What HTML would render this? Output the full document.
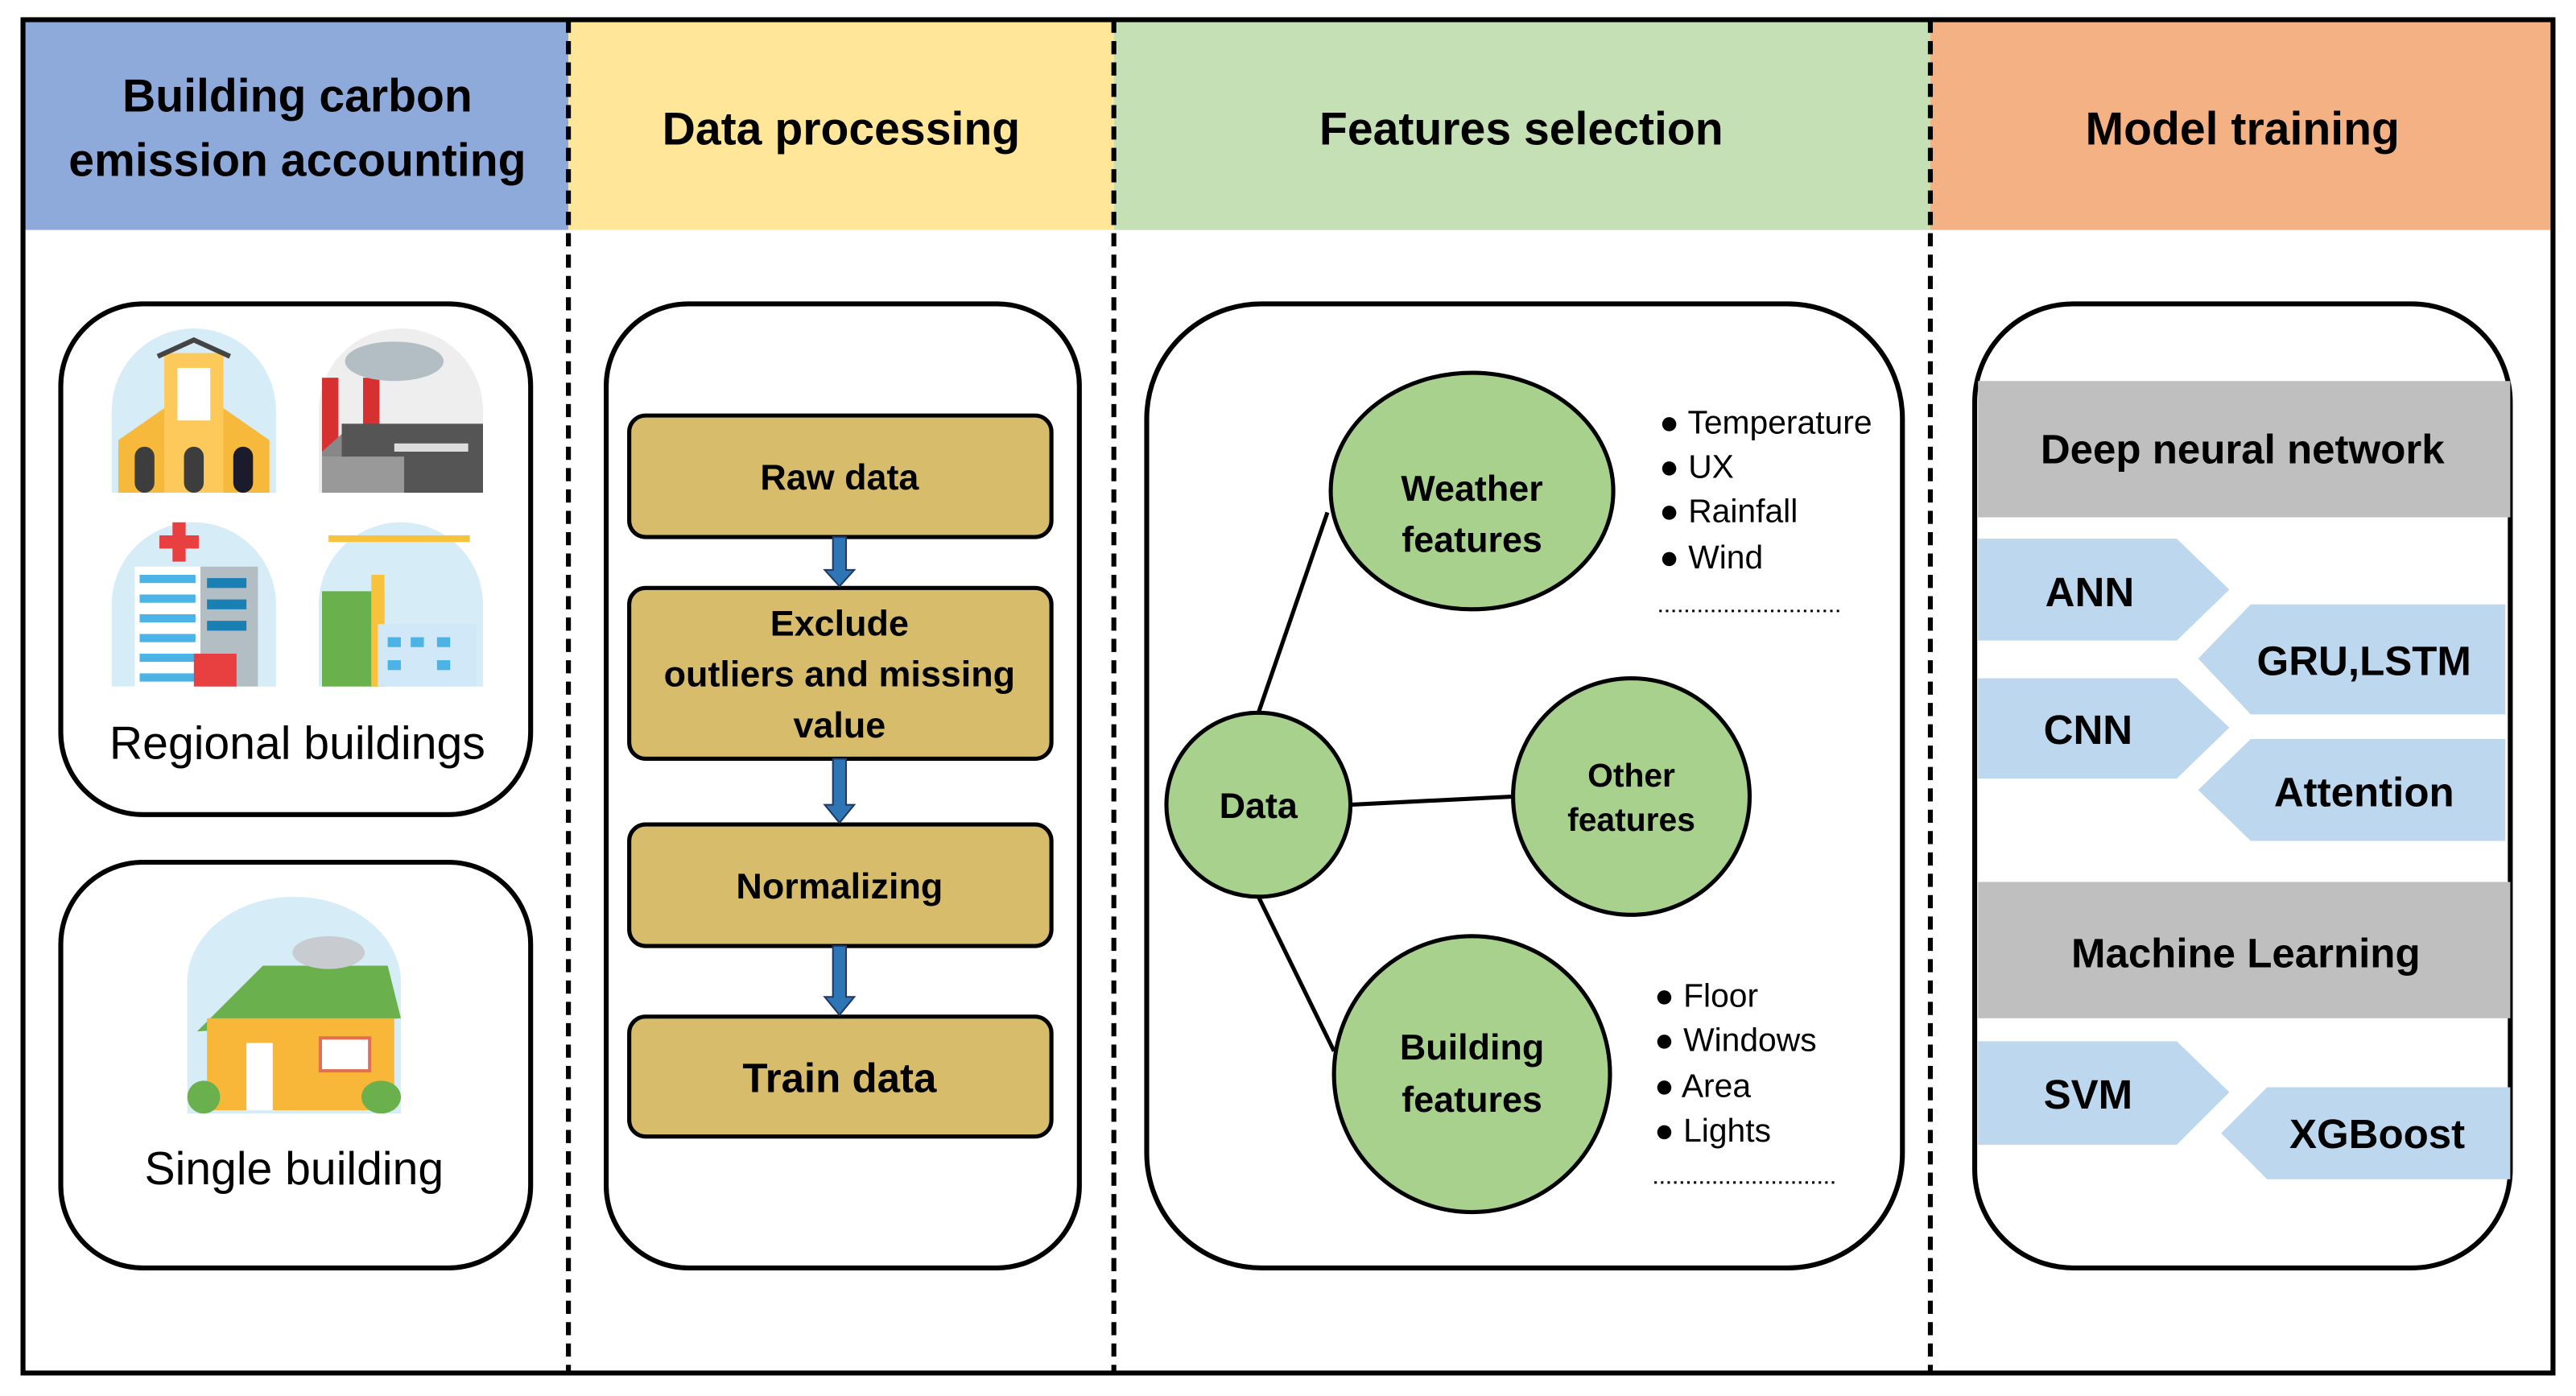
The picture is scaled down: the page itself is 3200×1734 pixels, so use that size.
<!DOCTYPE html>
<html><head><meta charset="utf-8"><style>
html,body{margin:0;padding:0;background:#fff}
svg{display:block}
text{font-family:"Liberation Sans","DejaVu Sans",sans-serif}
</style></head><body>
<svg width="3200" height="1734" viewBox="0 0 1568 850" preserveAspectRatio="none" xmlns="http://www.w3.org/2000/svg">
<rect x="0" y="0" width="1568" height="850" fill="#fff"/>
<rect x="14" y="12" width="332" height="128" fill="#8eaadb"/>
<rect x="346" y="12" width="332" height="128" fill="#ffe699"/>
<rect x="678" y="12" width="497" height="128" fill="#c5e0b4"/>
<rect x="1175" y="12" width="379" height="128" fill="#f4b183"/>
<g font-weight="bold" font-size="28" fill="#000" text-anchor="middle">
<text x="181" y="68">Building carbon</text>
<text x="181" y="107">emission accounting</text>
<text x="512" y="88">Data processing</text>
<text x="926" y="88">Features selection</text>
<text x="1365" y="88">Model training</text>
</g>
<g stroke="#000" stroke-width="3" stroke-dasharray="8,5">
<line x1="346" y1="12" x2="346" y2="836"/>
<line x1="678" y1="12" x2="678" y2="836"/>
<line x1="1175" y1="12" x2="1175" y2="836"/>
</g>
<rect x="14" y="12" width="1540" height="824" fill="none" stroke="#000" stroke-width="3"/>

<rect x="37" y="185" width="286" height="311" rx="50" fill="#fff" stroke="#000" stroke-width="3"/>
<rect x="37" y="525" width="286" height="247" rx="50" fill="#fff" stroke="#000" stroke-width="3"/>
<g fill="#d6edf8">
<path d="M68 300 V250 A50 50 0 0 1 168 250 V300 Z"/>
<path d="M319 300 V250 A50 50 0 0 1 419 250 V300 Z" transform="translate(-125 0)" fill="#eee"/>
<path d="M68 418 V368 A50 50 0 0 1 168 368 V418 Z"/>
<path d="M194 418 V368 A50 50 0 0 1 294 368 V418 Z"/>
<path d="M114 678 V598 A65 52 0 0 1 244 598 V678 Z"/>
</g>
<path d="M72 300 V268 L118 236 L164 268 V300 Z" fill="#f6b93b"/>
<rect x="100" y="215" width="36" height="85" fill="#fcc95a"/>
<path d="M96 217 L118 207 L140 217" stroke="#444" stroke-width="3" fill="none"/>
<rect x="108" y="224" width="20" height="32" fill="#fff"/>
<rect x="82" y="272" width="12" height="28" rx="6" fill="#3d3d3d"/>
<rect x="112" y="272" width="12" height="28" rx="6" fill="#3d3d3d"/>
<rect x="142" y="272" width="12" height="28" rx="6" fill="#1b1b2b"/>
<rect x="196" y="230" width="10" height="70" fill="#d63031"/>
<rect x="221" y="230" width="10" height="70" fill="#d63031"/>
<ellipse cx="240" cy="220" rx="30" ry="12" fill="#b2bec3"/>
<path d="M196 300 V275 L215 258 V300 Z" fill="#888"/>
<rect x="208" y="258" width="86" height="42" fill="#555"/>
<rect x="196" y="278" width="50" height="22" fill="#999"/>
<rect x="240" y="270" width="45" height="5" fill="#ddd"/>
<rect x="82" y="345" width="40" height="73" fill="#fff"/>
<g fill="#4bb3e6"><rect x="85" y="350" width="34" height="5"/><rect x="85" y="362" width="34" height="5"/><rect x="85" y="374" width="34" height="5"/><rect x="85" y="386" width="34" height="5"/><rect x="85" y="398" width="34" height="5"/><rect x="85" y="410" width="34" height="5"/></g>
<rect x="122" y="345" width="35" height="73" fill="#b2bec3"/>
<g fill="#1a7fb3"><rect x="126" y="352" width="24" height="6"/><rect x="126" y="365" width="24" height="6"/><rect x="126" y="378" width="24" height="6"/></g>
<path d="M100 330 h8 v-8 h8 v8 h8 v8 h-8 v8 h-8 v-8 h-8z" fill="#e84040" transform="translate(-3 -4)"/>
<rect x="118" y="398" width="26" height="20" fill="#e84040"/>
<rect x="196" y="360" width="38" height="58" fill="#6ab04c"/>
<rect x="226" y="350" width="8" height="68" fill="#f9c23c"/>
<path d="M200 328 L286 328" stroke="#f9c23c" stroke-width="4"/>
<rect x="230" y="380" width="60" height="38" fill="#d0e8f8"/>
<g fill="#4bb3e6"><rect x="236" y="388" width="8" height="6"/><rect x="250" y="388" width="8" height="6"/><rect x="266" y="388" width="8" height="6"/><rect x="236" y="402" width="8" height="6"/><rect x="266" y="402" width="8" height="6"/></g>
<path d="M120 628 L160 588 L236 588 L244 620 Z" fill="#6ab04c"/>
<rect x="126" y="620" width="114" height="56" fill="#f8b739"/>
<rect x="150" y="635" width="16" height="41" fill="#fff"/>
<rect x="195" y="632" width="30" height="20" fill="#fff" stroke="#e17055" stroke-width="2"/>
<ellipse cx="200" cy="580" rx="22" ry="10" fill="#c8ccd0"/>
<ellipse cx="232" cy="668" rx="12" ry="10" fill="#6ab04c"/>
<ellipse cx="124" cy="668" rx="10" ry="10" fill="#6ab04c"/>
<text x="181" y="462" font-size="28" text-anchor="middle">Regional buildings</text>
<text x="179" y="721" font-size="28" text-anchor="middle">Single building</text>

<rect x="369" y="185" width="288" height="587" rx="50" fill="#fff" stroke="#000" stroke-width="3"/>
<g fill="#d7bc6c" stroke="#000" stroke-width="2.5">
<rect x="383" y="253" width="257" height="74" rx="10"/>
<rect x="383" y="358" width="257" height="104" rx="10"/>
<rect x="383" y="502" width="257" height="74" rx="10"/>
<rect x="383" y="619" width="257" height="73" rx="10"/>
</g>
<g fill="#2e75b6" stroke="#1f3864" stroke-width="1">
<path d="M507 327 h8 v20 h5 l-9 10 l-9 -10 h5 z"/>
<path d="M507 462 h8 v28 h5 l-9 11 l-9 -11 h5 z"/>
<path d="M507 576 h8 v31 h5 l-9 11 l-9 -11 h5 z"/>
</g>
<g font-weight="bold" font-size="22" text-anchor="middle">
<text x="511" y="298">Raw data</text>
<text x="511" y="387">Exclude</text>
<text x="511" y="418">outliers and missing</text>
<text x="511" y="449">value</text>
<text x="511" y="547">Normalizing</text>
<text x="511" y="665" font-size="25">Train data</text>
</g>

<rect x="698" y="185" width="460" height="587" rx="70" fill="#fff" stroke="#000" stroke-width="3"/>
<g stroke="#000" stroke-width="2.5">
<line x1="766" y1="434" x2="808" y2="312"/>
<line x1="822" y1="490" x2="921" y2="485"/>
<line x1="766" y1="546" x2="812" y2="640"/>
</g>
<g fill="#a9d18e" stroke="#000" stroke-width="2.5">
<ellipse cx="896" cy="299" rx="86" ry="72"/>
<circle cx="766" cy="490" r="56"/>
<circle cx="993" cy="485" r="72"/>
<circle cx="896" cy="654" r="84"/>
</g>
<g font-weight="bold" font-size="22" text-anchor="middle">
<text x="896" y="305">Weather</text>
<text x="896" y="336">features</text>
<text x="766" y="498">Data</text>
<text x="993" y="479" font-size="20">Other</text>
<text x="993" y="506" font-size="20">features</text>
<text x="896" y="645">Building</text>
<text x="896" y="677">features</text>
</g>
<g font-size="20">
<text x="1010" y="264">● Temperature</text>
<text x="1010" y="291">● UX</text>
<text x="1010" y="318">● Rainfall</text>
<text x="1010" y="346">● Wind</text>
<text x="1007" y="613">● Floor</text>
<text x="1007" y="640">● Windows</text>
<text x="1007" y="668">● Area</text>
<text x="1007" y="695">● Lights</text>
</g>
<line x1="1010" y1="372" x2="1122" y2="372" stroke="#000" stroke-width="1.5" stroke-dasharray="1.5,2.5"/>
<line x1="1007" y1="720" x2="1118" y2="720" stroke="#000" stroke-width="1.5" stroke-dasharray="1.5,2.5"/>

<rect x="1202" y="185" width="326" height="587" rx="60" fill="#fff" stroke="#000" stroke-width="3"/>
<rect x="1204" y="232" width="324" height="83" fill="#bfbfbf"/>
<rect x="1204" y="537" width="324" height="83" fill="#bfbfbf"/>
<g fill="#bdd7ee">
<path d="M1204 328 H1325 L1357 359 L1325 390 H1204 Z"/>
<path d="M1204 413 H1325 L1357 443 L1325 474 H1204 Z"/>
<path d="M1204 634 H1325 L1357 665 L1325 697 H1204 Z"/>
<path d="M1525 368 H1370 L1338 401 L1370 435 H1525 Z"/>
<path d="M1525 450 H1370 L1338 481 L1370 512 H1525 Z"/>
<path d="M1528 662 H1380 L1352 690 L1380 718 H1528 Z"/>
</g>
<g font-weight="bold" font-size="25" text-anchor="middle">
<text x="1365" y="282">Deep neural network</text>
<text x="1367" y="589">Machine Learning</text>
<text x="1272" y="369">ANN</text>
<text x="1439" y="411">GRU,LSTM</text>
<text x="1271" y="453">CNN</text>
<text x="1439" y="491">Attention</text>
<text x="1271" y="675">SVM</text>
<text x="1447" y="699">XGBoost</text>
</g>
</svg>
</body></html>
